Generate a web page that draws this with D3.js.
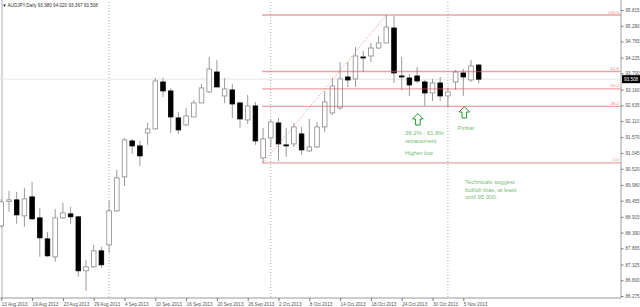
<!DOCTYPE html>
<html>
<head>
<meta charset="utf-8">
<script src="https://cdn.jsdelivr.net/npm/d3@7"></script>
<style>
  body { margin: 0; background: #fff; }
  svg { display: block; font-family: "Liberation Sans", Arial, sans-serif; }
</style>
</head>
<body>
<svg id="chart" width="640" height="307"></svg>
<script>
// AUDJPY daily bars, 13 Aug 2013 .. 7 Nov 2013
var dates = [
  "2013-08-13","2013-08-14","2013-08-15","2013-08-16","2013-08-19","2013-08-20","2013-08-21","2013-08-22","2013-08-23",
  "2013-08-26","2013-08-27","2013-08-28","2013-08-29","2013-08-30",
  "2013-09-02","2013-09-03","2013-09-04","2013-09-05","2013-09-06","2013-09-09","2013-09-10","2013-09-11","2013-09-12","2013-09-13",
  "2013-09-16","2013-09-17","2013-09-18","2013-09-19","2013-09-20","2013-09-23","2013-09-24","2013-09-25","2013-09-26","2013-09-27","2013-09-30",
  "2013-10-01","2013-10-02","2013-10-03","2013-10-04","2013-10-07","2013-10-08","2013-10-09","2013-10-10","2013-10-11",
  "2013-10-14","2013-10-15","2013-10-16","2013-10-17","2013-10-18","2013-10-21","2013-10-22","2013-10-23","2013-10-24","2013-10-25",
  "2013-10-28","2013-10-29","2013-10-30","2013-10-31",
  "2013-11-01","2013-11-04","2013-11-05","2013-11-06","2013-11-07"
];
var open = [
  88.615,89.431,89.481,88.948,89.581,88.881,88.181,87.581,88.881,89.015,88.915,87.115,87.248,87.781,
  87.981,89.115,90.248,91.448,91.281,91.715,91.848,93.415,93.115,92.215,91.981,92.248,92.715,93.081,93.748,92.948,93.148,92.715,92.148,92.615,90.881,
  91.548,92.048,91.315,91.348,91.681,91.115,91.248,91.915,92.381,92.548,93.581,93.515,94.248,94.282,94.548,94.715,95.215,93.615,93.548,93.615,93.415,93.048,93.381,
  92.948,93.415,93.715,93.481,93.980
];
var high = [
  89.515,89.781,89.748,89.881,90.081,89.215,88.415,89.181,89.381,89.248,88.948,87.481,87.981,87.915,
  89.481,90.481,91.548,91.515,91.448,92.048,93.548,93.548,93.215,92.415,92.548,92.815,93.348,94.248,94.148,93.548,93.348,92.748,92.981,92.748,91.881,
  92.148,92.215,91.881,92.048,91.915,92.181,92.081,93.115,93.548,94.081,94.081,94.582,94.448,94.715,94.948,95.648,95.615,94.248,93.681,93.915,93.481,93.515,93.581,
  93.215,93.815,93.848,94.148,94.020
];
var low = [
  88.548,89.081,88.681,88.581,88.815,87.581,87.581,87.415,88.848,88.681,86.915,86.448,87.215,87.215,
  87.715,89.081,89.948,91.015,90.615,91.315,91.815,92.915,91.715,91.681,91.948,92.248,92.715,93.048,93.248,92.715,92.215,91.881,92.015,91.315,90.715,
  91.248,90.781,90.915,91.248,90.981,91.081,91.215,91.748,92.315,92.481,93.248,93.248,93.748,94.081,94.515,94.715,93.381,93.148,92.948,93.381,92.615,92.781,92.781,
  92.581,93.148,92.948,93.415,93.367
];
var close = [
  89.415,89.481,88.981,89.515,88.848,88.215,87.615,88.881,89.048,88.915,87.115,87.248,87.781,87.315,
  89.115,90.215,91.481,91.281,90.948,91.848,93.448,93.115,92.248,91.815,92.281,92.715,93.215,93.848,93.248,93.181,92.681,92.181,92.615,91.448,91.515,
  92.081,91.348,91.298,91.915,91.148,91.248,91.915,92.748,93.281,93.515,93.481,94.282,94.232,94.548,94.715,95.248,93.715,93.581,93.315,93.448,93.048,93.381,92.948,
  93.081,93.748,93.581,93.948,93.508
];

var yTicks = [95.815,95.290,94.765,94.225,93.700,93.160,92.635,92.110,91.570,91.045,90.520,89.980,89.455,88.915,88.390,87.865,87.325,86.800,86.275];
var fibLevels = [0, 38.2, 50.0, 61.8, 100.0];
var fibFrom = "2013-09-30";   // swing low
var fibTo = "2013-10-22";     // swing high
var monthStarts = ["2013-09-02", "2013-10-01", "2013-11-01"];
var labelEvery = 4;

var svg = d3.select("#chart");
var parse = d3.timeParse("%Y-%m-%d");
var fmtDate = d3.timeFormat("%-d %b %Y");

var plotRight = 621, plotBottom = 298;

var x = d3.scalePoint()
  .domain(dates)
  .range([1.3, 1.3 + (dates.length - 1) * 7.7]);

var y = d3.scaleLinear()
  .domain([86.275, 95.815])
  .range([296, 10]);

var bars = dates.map(function (d, i) {
  return { date: d, o: open[i], h: high[i], l: low[i], c: close[i] };
});

// left frame
svg.append("line")
  .attr("x1", 2).attr("x2", 2).attr("y1", 0).attr("y2", plotBottom)
  .attr("stroke", "#b0b0b0").attr("stroke-width", 1);

// month separators
svg.selectAll(".sep")
  .data(monthStarts)
  .enter().append("line")
  .attr("x1", function (d) { return x(d); })
  .attr("x2", function (d) { return x(d); })
  .attr("y1", 2).attr("y2", plotBottom)
  .attr("stroke", "#999").attr("stroke-width", 0.8)
  .attr("stroke-dasharray", "1,2");

// bid line
var last = bars[bars.length - 1];
svg.append("line")
  .attr("x1", 0).attr("x2", plotRight)
  .attr("y1", y(last.c)).attr("y2", y(last.c))
  .attr("stroke", "#e6e6e6").attr("stroke-width", 1);

// candles
var bodyW = 4.6;
var candle = svg.append("g").selectAll("g")
  .data(bars)
  .enter().append("g");

candle.append("line")
  .attr("x1", function (d) { return x(d.date); })
  .attr("x2", function (d) { return x(d.date); })
  .attr("y1", function (d) { return y(d.h); })
  .attr("y2", function (d) { return y(d.l); })
  .attr("stroke", "#9a9a9a").attr("stroke-width", 1);

candle.append("rect")
  .attr("x", function (d) { return x(d.date) - bodyW / 2; })
  .attr("y", function (d) { return y(Math.max(d.o, d.c)); })
  .attr("width", bodyW)
  .attr("height", function (d) { return Math.max(1, Math.abs(y(d.o) - y(d.c))); })
  .attr("fill", function (d) { return d.c >= d.o ? "#fff" : "#000"; })
  .attr("stroke", function (d) { return d.c >= d.o ? "#8a8a8a" : "#000"; })
  .attr("stroke-width", 0.8);

// fibonacci retracement
var fibLowBar = bars[dates.indexOf(fibFrom)];
var fibHighBar = bars[dates.indexOf(fibTo)];
var fLow = fibLowBar.l, fHigh = fibHighBar.h;

svg.append("line")
  .attr("x1", x(fibFrom)).attr("y1", y(fLow))
  .attr("x2", x(fibTo)).attr("y2", y(fHigh))
  .attr("stroke", "#f07070").attr("stroke-width", 0.9)
  .attr("stroke-dasharray", "1,2");

var fib = svg.append("g").selectAll("g")
  .data(fibLevels)
  .enter().append("g");

fib.append("line")
  .attr("x1", x(fibFrom) - 1).attr("x2", plotRight)
  .attr("y1", function (d) { return y(fLow + (fHigh - fLow) * d / 100); })
  .attr("y2", function (d) { return y(fLow + (fHigh - fLow) * d / 100); })
  .attr("stroke", "#e25555").attr("stroke-opacity", 0.55).attr("stroke-width", 1.3);

fib.append("text")
  .attr("x", plotRight - 2)
  .attr("y", function (d) { return y(fLow + (fHigh - fLow) * d / 100) - 1.5; })
  .attr("text-anchor", "end")
  .attr("font-size", 4.4)
  .attr("fill", "#ef8a8a")
  .text(function (d) { return d.toFixed(1); });

// axes
var yAxis = d3.axisRight(y)
  .tickValues(yTicks)
  .tickFormat(d3.format(".3f"))
  .tickSize(2.5)
  .tickPadding(2);

var gy = svg.append("g")
  .attr("transform", "translate(" + plotRight + ",0)")
  .call(yAxis);
gy.select(".domain").attr("stroke", "#b0b0b0").attr("stroke-width", 1.2)
  .attr("d", "M0,0V" + plotBottom);
gy.selectAll(".tick line").attr("stroke", "#777");
gy.selectAll(".tick text").attr("font-size", 4.6).attr("fill", "#555")
  .attr("font-family", "Liberation Sans, Arial, sans-serif");

var xTickDates = dates.filter(function (d, i) { return i % labelEvery === 0; });
var xAxis = d3.axisBottom(x)
  .tickValues(xTickDates)
  .tickFormat(function (d) { return fmtDate(parse(d)); })
  .tickSize(3)
  .tickPadding(2);

var gx = svg.append("g")
  .attr("transform", "translate(0," + plotBottom + ")")
  .call(xAxis);
gx.select(".domain").attr("stroke", "#999").attr("d", "M0,0H" + plotRight);
gx.selectAll(".tick line").attr("stroke", "#777");
gx.selectAll(".tick text").attr("font-size", 4.6).attr("fill", "#555")
  .attr("text-anchor", "start")
  .attr("font-family", "Liberation Sans, Arial, sans-serif");

// current price box
svg.append("rect")
  .attr("x", plotRight + 1).attr("y", y(last.c) - 4)
  .attr("width", 18).attr("height", 8)
  .attr("fill", "#000");
svg.append("text")
  .attr("x", plotRight + 3).attr("y", y(last.c) + 1.7)
  .attr("font-size", 4.6).attr("fill", "#fff")
  .text(d3.format(".3f")(last.c));

// title
svg.append("path")
  .attr("d", "M3,4.5 L6,4.5 L4.5,7 Z")
  .attr("fill", "#333");
svg.append("text")
  .attr("x", 7.5).attr("y", 7.2)
  .attr("font-size", 4.6).attr("fill", "#333")
  .text("AUDJPY,Daily  " + [last.o, last.h, last.l, last.c].map(d3.format(".3f")).join(" "));

// annotations
var green = "#76c076";
function upArrow(cx, top) {
  var p = d3.path();
  p.moveTo(cx, top);
  p.lineTo(cx + 5.3, top + 5.5);
  p.lineTo(cx + 2.3, top + 5.5);
  p.lineTo(cx + 2.3, top + 11.5);
  p.lineTo(cx - 2.3, top + 11.5);
  p.lineTo(cx - 2.3, top + 5.5);
  p.lineTo(cx - 5.3, top + 5.5);
  p.closePath();
  svg.append("path").attr("d", p.toString())
    .attr("fill", "#fff").attr("stroke", "#1f9a2a").attr("stroke-width", 1);
}
upArrow(x("2013-10-28") + 0.8, 113.5);
upArrow(x("2013-11-05") + 1, 106.5);

function note(tx, ty, lines, gap) {
  var t = svg.append("text")
    .attr("x", tx).attr("y", ty)
    .attr("font-size", 5.9).attr("fill", green);
  lines.forEach(function (s, i) {
    t.append("tspan").attr("x", tx).attr("dy", i === 0 ? 0 : gap).text(s);
  });
}
note(405, 134.5, ["38.2% - 61.8%", "retracement"], 8);
note(405, 154.5, ["Higher low"], 0);
note(457.5, 129.5, ["Pinbar"], 0);
note(465, 184, ["Technicals suggest", "bullish bias, at least", "until 95.000."], 7.5);
</script>
</body>
</html>
